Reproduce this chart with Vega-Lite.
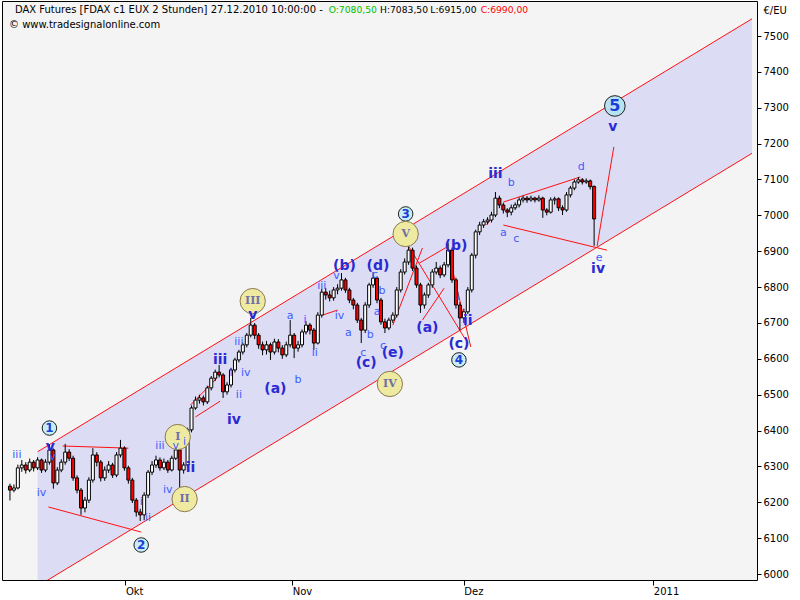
{
  "$schema": "https://vega.github.io/schema/vega-lite/v6.json",
  "autosize": "none",
  "width": 755,
  "height": 579,
  "padding": {"left": 2, "top": 1, "right": 43, "bottom": 20},
  "background": "#ffffff",
  "config": {
    "view": {"fill": "#f4f4f4", "stroke": "#000000", "strokeWidth": 1},
    "font": "DejaVu Sans",
    "axis": {"labelFont": "DejaVu Sans", "labelFontSize": 10, "labelColor": "#000000", "tickColor": "#000000", "grid": false, "domain": false, "labelOverlap": false}
  },
  "datasets": {
    "candles": [
      {"i":0,"o":6245,"h":6252,"l":6205,"c":6234},
      {"i":1,"o":6234,"h":6250,"l":6228,"c":6240},
      {"i":2,"o":6240,"h":6305,"l":6236,"c":6296},
      {"i":3,"o":6296,"h":6318,"l":6285,"c":6304},
      {"i":4,"o":6304,"h":6312,"l":6280,"c":6290},
      {"i":5,"o":6290,"h":6322,"l":6284,"c":6312},
      {"i":6,"o":6312,"h":6318,"l":6286,"c":6296},
      {"i":7,"o":6296,"h":6326,"l":6290,"c":6318},
      {"i":8,"o":6318,"h":6322,"l":6282,"c":6290},
      {"i":9,"o":6290,"h":6320,"l":6284,"c":6312},
      {"i":10,"o":6312,"h":6360,"l":6305,"c":6346},
      {"i":11,"o":6346,"h":6350,"l":6238,"c":6254},
      {"i":12,"o":6254,"h":6298,"l":6248,"c":6290},
      {"i":13,"o":6290,"h":6320,"l":6284,"c":6312},
      {"i":14,"o":6312,"h":6363,"l":6305,"c":6340},
      {"i":15,"o":6340,"h":6348,"l":6315,"c":6323},
      {"i":16,"o":6323,"h":6330,"l":6260,"c":6268},
      {"i":17,"o":6268,"h":6275,"l":6225,"c":6234},
      {"i":18,"o":6234,"h":6240,"l":6165,"c":6184},
      {"i":19,"o":6184,"h":6215,"l":6172,"c":6206},
      {"i":20,"o":6206,"h":6270,"l":6198,"c":6262},
      {"i":21,"o":6262,"h":6351,"l":6255,"c":6332},
      {"i":22,"o":6332,"h":6340,"l":6300,"c":6312},
      {"i":23,"o":6312,"h":6318,"l":6258,"c":6268},
      {"i":24,"o":6268,"h":6300,"l":6260,"c":6290},
      {"i":25,"o":6290,"h":6315,"l":6282,"c":6304},
      {"i":26,"o":6304,"h":6310,"l":6268,"c":6276},
      {"i":27,"o":6276,"h":6340,"l":6270,"c":6332},
      {"i":28,"o":6332,"h":6374,"l":6325,"c":6351},
      {"i":29,"o":6351,"h":6356,"l":6288,"c":6296},
      {"i":30,"o":6296,"h":6302,"l":6252,"c":6262},
      {"i":31,"o":6262,"h":6268,"l":6198,"c":6206},
      {"i":32,"o":6206,"h":6212,"l":6160,"c":6173},
      {"i":33,"o":6173,"h":6182,"l":6148,"c":6165},
      {"i":34,"o":6165,"h":6228,"l":6150,"c":6220},
      {"i":35,"o":6220,"h":6290,"l":6212,"c":6284},
      {"i":36,"o":6284,"h":6315,"l":6276,"c":6304},
      {"i":37,"o":6304,"h":6330,"l":6296,"c":6318},
      {"i":38,"o":6318,"h":6325,"l":6288,"c":6296},
      {"i":39,"o":6296,"h":6322,"l":6290,"c":6312},
      {"i":40,"o":6312,"h":6318,"l":6282,"c":6290},
      {"i":41,"o":6290,"h":6330,"l":6286,"c":6323},
      {"i":42,"o":6323,"h":6352,"l":6318,"c":6346},
      {"i":43,"o":6346,"h":6350,"l":6240,"c":6290},
      {"i":44,"o":6290,"h":6312,"l":6280,"c":6304},
      {"i":45,"o":6304,"h":6408,"l":6298,"c":6402},
      {"i":46,"o":6402,"h":6470,"l":6395,"c":6463},
      {"i":47,"o":6463,"h":6495,"l":6458,"c":6485},
      {"i":48,"o":6485,"h":6500,"l":6475,"c":6491},
      {"i":49,"o":6491,"h":6498,"l":6470,"c":6480},
      {"i":50,"o":6480,"h":6525,"l":6474,"c":6519},
      {"i":51,"o":6519,"h":6552,"l":6512,"c":6546},
      {"i":52,"o":6546,"h":6570,"l":6538,"c":6563},
      {"i":53,"o":6563,"h":6583,"l":6548,"c":6555},
      {"i":54,"o":6555,"h":6560,"l":6491,"c":6508},
      {"i":55,"o":6508,"h":6535,"l":6500,"c":6527},
      {"i":56,"o":6527,"h":6575,"l":6520,"c":6569},
      {"i":57,"o":6569,"h":6603,"l":6562,"c":6597},
      {"i":58,"o":6597,"h":6625,"l":6590,"c":6619},
      {"i":59,"o":6619,"h":6645,"l":6612,"c":6639},
      {"i":60,"o":6639,"h":6672,"l":6632,"c":6666},
      {"i":61,"o":6666,"h":6714,"l":6660,"c":6694},
      {"i":62,"o":6694,"h":6700,"l":6655,"c":6666},
      {"i":63,"o":6666,"h":6672,"l":6628,"c":6639},
      {"i":64,"o":6639,"h":6648,"l":6610,"c":6625},
      {"i":65,"o":6625,"h":6650,"l":6612,"c":6639},
      {"i":66,"o":6639,"h":6645,"l":6597,"c":6619},
      {"i":67,"o":6619,"h":6656,"l":6612,"c":6647},
      {"i":68,"o":6647,"h":6655,"l":6618,"c":6630},
      {"i":69,"o":6630,"h":6638,"l":6600,"c":6611},
      {"i":70,"o":6611,"h":6648,"l":6605,"c":6639},
      {"i":71,"o":6639,"h":6708,"l":6632,"c":6666},
      {"i":72,"o":6666,"h":6672,"l":6602,"c":6630},
      {"i":73,"o":6630,"h":6650,"l":6620,"c":6639},
      {"i":74,"o":6639,"h":6682,"l":6632,"c":6675},
      {"i":75,"o":6675,"h":6705,"l":6668,"c":6694},
      {"i":76,"o":6694,"h":6700,"l":6668,"c":6680},
      {"i":77,"o":6680,"h":6686,"l":6625,"c":6644},
      {"i":78,"o":6644,"h":6730,"l":6640,"c":6722},
      {"i":79,"o":6722,"h":6795,"l":6715,"c":6786},
      {"i":80,"o":6786,"h":6797,"l":6765,"c":6778},
      {"i":81,"o":6778,"h":6790,"l":6760,"c":6770},
      {"i":82,"o":6770,"h":6800,"l":6762,"c":6792},
      {"i":83,"o":6792,"h":6808,"l":6780,"c":6797},
      {"i":84,"o":6797,"h":6839,"l":6790,"c":6820},
      {"i":85,"o":6820,"h":6826,"l":6784,"c":6792},
      {"i":86,"o":6792,"h":6798,"l":6755,"c":6764},
      {"i":87,"o":6764,"h":6770,"l":6738,"c":6750},
      {"i":88,"o":6750,"h":6756,"l":6700,"c":6708},
      {"i":89,"o":6708,"h":6714,"l":6644,"c":6680},
      {"i":90,"o":6680,"h":6758,"l":6672,"c":6750},
      {"i":91,"o":6750,"h":6812,"l":6742,"c":6806},
      {"i":92,"o":6806,"h":6842,"l":6798,"c":6825},
      {"i":93,"o":6825,"h":6830,"l":6755,"c":6764},
      {"i":94,"o":6764,"h":6770,"l":6695,"c":6703},
      {"i":95,"o":6703,"h":6712,"l":6672,"c":6686},
      {"i":96,"o":6686,"h":6715,"l":6680,"c":6708},
      {"i":97,"o":6708,"h":6730,"l":6700,"c":6722},
      {"i":98,"o":6722,"h":6800,"l":6715,"c":6792},
      {"i":99,"o":6792,"h":6850,"l":6785,"c":6842},
      {"i":100,"o":6842,"h":6880,"l":6835,"c":6870},
      {"i":101,"o":6870,"h":6923,"l":6862,"c":6903},
      {"i":102,"o":6903,"h":6910,"l":6845,"c":6853},
      {"i":103,"o":6853,"h":6860,"l":6798,"c":6806},
      {"i":104,"o":6806,"h":6812,"l":6728,"c":6750},
      {"i":105,"o":6750,"h":6785,"l":6740,"c":6778},
      {"i":106,"o":6778,"h":6812,"l":6770,"c":6806},
      {"i":107,"o":6806,"h":6850,"l":6798,"c":6842},
      {"i":108,"o":6842,"h":6870,"l":6835,"c":6853},
      {"i":109,"o":6853,"h":6860,"l":6825,"c":6834},
      {"i":110,"o":6834,"h":6870,"l":6828,"c":6862},
      {"i":111,"o":6862,"h":6923,"l":6855,"c":6903},
      {"i":112,"o":6903,"h":6910,"l":6812,"c":6820},
      {"i":113,"o":6820,"h":6826,"l":6740,"c":6750},
      {"i":114,"o":6750,"h":6758,"l":6680,"c":6714},
      {"i":115,"o":6714,"h":6740,"l":6700,"c":6731},
      {"i":116,"o":6731,"h":6800,"l":6725,"c":6792},
      {"i":117,"o":6792,"h":6895,"l":6785,"c":6889},
      {"i":118,"o":6889,"h":6960,"l":6880,"c":6954},
      {"i":119,"o":6954,"h":6982,"l":6945,"c":6973},
      {"i":120,"o":6973,"h":6990,"l":6965,"c":6982},
      {"i":121,"o":6982,"h":6995,"l":6975,"c":6987},
      {"i":122,"o":6987,"h":7010,"l":6980,"c":7001},
      {"i":123,"o":7001,"h":7065,"l":6995,"c":7048},
      {"i":124,"o":7048,"h":7055,"l":7020,"c":7029},
      {"i":125,"o":7029,"h":7035,"l":7005,"c":7015},
      {"i":126,"o":7015,"h":7020,"l":6995,"c":7009},
      {"i":127,"o":7009,"h":7030,"l":7000,"c":7021},
      {"i":128,"o":7021,"h":7036,"l":7015,"c":7029},
      {"i":129,"o":7029,"h":7050,"l":7022,"c":7043},
      {"i":130,"o":7043,"h":7055,"l":7036,"c":7048},
      {"i":131,"o":7048,"h":7054,"l":7035,"c":7043},
      {"i":132,"o":7043,"h":7055,"l":7038,"c":7048},
      {"i":133,"o":7048,"h":7052,"l":7036,"c":7043},
      {"i":134,"o":7043,"h":7056,"l":7038,"c":7048},
      {"i":135,"o":7048,"h":7052,"l":6993,"c":7015},
      {"i":136,"o":7015,"h":7020,"l":7000,"c":7009},
      {"i":137,"o":7009,"h":7050,"l":7005,"c":7043},
      {"i":138,"o":7043,"h":7052,"l":7030,"c":7046},
      {"i":139,"o":7046,"h":7050,"l":7012,"c":7021},
      {"i":140,"o":7021,"h":7028,"l":7001,"c":7015},
      {"i":141,"o":7015,"h":7065,"l":7010,"c":7057},
      {"i":142,"o":7057,"h":7082,"l":7050,"c":7076},
      {"i":143,"o":7076,"h":7100,"l":7070,"c":7093},
      {"i":144,"o":7093,"h":7107,"l":7088,"c":7099},
      {"i":145,"o":7099,"h":7104,"l":7086,"c":7093},
      {"i":146,"o":7093,"h":7103,"l":7088,"c":7096},
      {"i":147,"o":7096,"h":7100,"l":7072,"c":7080},
      {"i":148,"o":7080.5,"h":7083.5,"l":6915,"c":6990}
    ],
    "channel": [
      {"i":7,"p":6341,"p2":5966},
      {"i":188,"p":7548,"p2":7173}
    ],
    "lines": [
      {"i":7,"p":6341,"i2":188,"p2":7548},
      {"i":7,"p":5966,"i2":188,"p2":7173},
      {"i":13.33,"p":6357,"i2":30,"p2":6351},
      {"i":9.75,"p":6187,"i2":33.25,"p2":6117},
      {"i":45.75,"p":6471,"i2":52.5,"p2":6547},
      {"i":47,"p":6438,"i2":53.25,"p2":6482},
      {"i":79.25,"p":6722,"i2":83,"p2":6736},
      {"i":97,"p":6694,"i2":104.5,"p2":6909},
      {"i":100.5,"p":6923,"i2":115.5,"p2":6652},
      {"i":103.75,"p":6867,"i2":110.75,"p2":6912},
      {"i":104.5,"p":6708,"i2":110,"p2":6797},
      {"i":110.75,"p":6912,"i2":116.75,"p2":6633},
      {"i":120.75,"p":6973,"i2":123.25,"p2":7012},
      {"i":125,"p":7037,"i2":144.5,"p2":7107},
      {"i":125,"p":6973,"i2":151.25,"p2":6903},
      {"i":148.75,"p":6914,"i2":153,"p2":7191}
    ],
    "circles": [
      {"i":10,"p":6407,"t":"1","k":"wave"},
      {"i":33.25,"p":6081,"t":"2","k":"wave"},
      {"i":100.25,"p":7004,"t":"3","k":"wave"},
      {"i":113.75,"p":6597,"t":"4","k":"wave"},
      {"i":153.25,"p":7305,"t":"5","k":"big"},
      {"i":42.5,"p":6382,"t":"I","k":"roman"},
      {"i":44.25,"p":6209,"t":"II","k":"roman"},
      {"i":61.5,"p":6761,"t":"III","k":"roman"},
      {"i":96.25,"p":6530,"t":"IV","k":"roman"},
      {"i":100.25,"p":6948,"t":"V","k":"roman"}
    ],
    "labels": [
      {"i":10.25,"p":6354,"t":"v","k":"big"},
      {"i":45.75,"p":6296,"t":"ii","k":"big"},
      {"i":53.25,"p":6597,"t":"iii","k":"big"},
      {"i":56.75,"p":6429,"t":"iv","k":"big"},
      {"i":61.5,"p":6722,"t":"v","k":"big"},
      {"i":67.25,"p":6516,"t":"(a)","k":"big"},
      {"i":84.75,"p":6859,"t":"(b)","k":"big"},
      {"i":90.25,"p":6588,"t":"(c)","k":"big"},
      {"i":93.25,"p":6859,"t":"(d)","k":"big"},
      {"i":97,"p":6616,"t":"(e)","k":"big"},
      {"i":105.75,"p":6686,"t":"(a)","k":"big"},
      {"i":113,"p":6915,"t":"(b)","k":"big"},
      {"i":113.75,"p":6641,"t":"(c)","k":"big"},
      {"i":116,"p":6705,"t":"ii","k":"big"},
      {"i":123,"p":7115,"t":"iii","k":"big"},
      {"i":149,"p":6850,"t":"iv","k":"big"},
      {"i":152.75,"p":7246,"t":"v","k":"big"},
      {"i":1.75,"p":6332,"t":"iii","k":"small"},
      {"i":8,"p":6226,"t":"iv","k":"small"},
      {"i":10.75,"p":6326,"t":"v","k":"small"},
      {"i":33.25,"p":6201,"t":"i","k":"small"},
      {"i":35,"p":6156,"t":"ii","k":"small"},
      {"i":38,"p":6357,"t":"iii","k":"small"},
      {"i":40,"p":6234,"t":"iv","k":"small"},
      {"i":42,"p":6357,"t":"v","k":"small"},
      {"i":44.25,"p":6368,"t":"i","k":"small"},
      {"i":56,"p":6560,"t":"i","k":"small"},
      {"i":59.75,"p":6560,"t":"iv","k":"small"},
      {"i":58,"p":6499,"t":"ii","k":"small"},
      {"i":58,"p":6647,"t":"iii","k":"small"},
      {"i":71,"p":6719,"t":"a","k":"small"},
      {"i":73,"p":6541,"t":"b","k":"small"},
      {"i":74.75,"p":6708,"t":"i","k":"small"},
      {"i":77.25,"p":6616,"t":"ii","k":"small"},
      {"i":79,"p":6803,"t":"iii","k":"small"},
      {"i":83.5,"p":6719,"t":"iv","k":"small"},
      {"i":82.75,"p":6831,"t":"v","k":"small"},
      {"i":85.75,"p":6672,"t":"a","k":"small"},
      {"i":89.5,"p":6616,"t":"c","k":"small"},
      {"i":91.25,"p":6666,"t":"b","k":"small"},
      {"i":92.5,"p":6834,"t":"c","k":"small"},
      {"i":94.25,"p":6789,"t":"b","k":"small"},
      {"i":93,"p":6731,"t":"a","k":"small"},
      {"i":94.5,"p":6636,"t":"c","k":"small"},
      {"i":113.5,"p":6772,"t":"i","k":"small"},
      {"i":127,"p":7090,"t":"b","k":"small"},
      {"i":125,"p":6951,"t":"a","k":"small"},
      {"i":128.25,"p":6934,"t":"c","k":"small"},
      {"i":144.75,"p":7135,"t":"d","k":"small"},
      {"i":149.25,"p":6881,"t":"e","k":"small"}
    ],
    "header": [
      {"i":1.25,"p":7572,"t":"DAX Futures [FDAX c1 EUX  2 Stunden] 27.12.2010 10:00:00 -","k":"plain"},
      {"i":-0.25,"p":7531,"t":"© www.tradesignalonline.com","k":"plain"}
    ],
    "quotes": [
      {"i":80.75,"p":7572,"t":"O:7080,50","k":"open"},
      {"i":93.75,"p":7572,"t":"H:7083,50","k":"plain"},
      {"i":106.5,"p":7572,"t":"L:6915,00","k":"plain"},
      {"i":119.25,"p":7572,"t":"C:6990,00","k":"close"}
    ]
  },
  "encoding": {
    "x": {"field": "i", "type": "quantitative", "scale": {"domain": [-0.75, 188], "nice": false, "zero": false},
      "axis": {"orient": "bottom", "values": [29.25, 71.5, 115, 163], "labelExpr": "datum.value < 40 ? 'Okt' : datum.value < 90 ? 'Nov' : datum.value < 140 ? 'Dez' : '2011'", "labelAlign": "left", "labelPadding": 1, "labelDx": -2, "labelOverlap": false, "tickSize": 5, "title": null}},
    "y": {"field": "p", "type": "quantitative", "scale": {"domain": [5983.4, 7597.6], "nice": false, "zero": false},
      "axis": {"orient": "right", "values": [6000,6100,6200,6300,6400,6500,6600,6700,6800,6900,7000,7100,7200,7300,7400,7500], "tickCount": 16, "format": "d", "labelOverlap": false, "tickSize": 4, "labelPadding": 2, "title": "€/EU", "titleAngle": 0, "titleAlign": "left", "titleBaseline": "middle", "titleX": 6, "titleY": 9, "titleFont": "DejaVu Sans", "titleFontSize": 10, "titleFontWeight": "normal"}}
  },
  "layer": [
    {
      "data": {"name": "channel"},
      "mark": {"type": "area", "clip": true, "fill": "#dcdcf5", "opacity": 1},
      "encoding": {"y2": {"field": "p2"}}
    },
    {
      "data": {"name": "lines"},
      "mark": {"type": "rule", "clip": true, "color": "#ff1010", "strokeWidth": 1},
      "encoding": {"x2": {"field": "i2"}, "y2": {"field": "p2"}}
    },
    {
      "data": {"name": "candles"},
      "mark": {"type": "rule", "color": "#000000", "strokeWidth": 1},
      "encoding": {
        "y": {"field": "l", "type": "quantitative", "scale": {"domain": [5983.4, 7597.6], "nice": false, "zero": false},
          "axis": {"orient": "right", "values": [6000,6100,6200,6300,6400,6500,6600,6700,6800,6900,7000,7100,7200,7300,7400,7500], "tickCount": 16, "format": "d", "labelOverlap": false, "tickSize": 4, "labelPadding": 2, "title": "€/EU", "titleAngle": 0, "titleAlign": "left", "titleBaseline": "middle", "titleX": 6, "titleY": 9, "titleFont": "DejaVu Sans", "titleFontSize": 10, "titleFontWeight": "normal"}},
        "y2": {"field": "h"}
      }
    },
    {
      "data": {"name": "candles"},
      "mark": {"type": "bar", "width": 3, "stroke": "#000000", "strokeWidth": 1},
      "encoding": {
        "y": {"field": "o", "type": "quantitative", "scale": {"domain": [5983.4, 7597.6], "nice": false, "zero": false},
          "axis": {"orient": "right", "values": [6000,6100,6200,6300,6400,6500,6600,6700,6800,6900,7000,7100,7200,7300,7400,7500], "tickCount": 16, "format": "d", "labelOverlap": false, "tickSize": 4, "labelPadding": 2, "title": "€/EU", "titleAngle": 0, "titleAlign": "left", "titleBaseline": "middle", "titleX": 6, "titleY": 9, "titleFont": "DejaVu Sans", "titleFontSize": 10, "titleFontWeight": "normal"}},
        "y2": {"field": "c"},
        "fill": {"condition": {"test": "datum.o > datum.c", "value": "#ff0000"}, "value": "#ffffff"}
      }
    },
    {
      "data": {"name": "circles"},
      "mark": {"type": "point", "shape": "circle", "filled": true, "opacity": 1, "strokeWidth": 1},
      "encoding": {
        "fill": {"field": "k", "type": "nominal", "scale": {"domain": ["wave", "big", "roman"], "range": ["#c6eef4", "#b6e2f2", "#efeaa2"]}, "legend": null},
        "stroke": {"field": "k", "type": "nominal", "scale": {"domain": ["wave", "big", "roman"], "range": ["#202020", "#202020", "#8a7a50"]}, "legend": null},
        "size": {"field": "k", "type": "nominal", "scale": {"domain": ["wave", "big", "roman"], "range": [210, 640, 250]}, "legend": null}
      }
    },
    {
      "data": {"name": "circles"},
      "transform": [{"filter": "datum.k == 'wave'"}],
      "mark": {"type": "text", "font": "DejaVu Sans", "fontWeight": "bold", "fontSize": 12, "color": "#1c3cd8", "align": "center", "baseline": "middle"},
      "encoding": {"text": {"field": "t"}}
    },
    {
      "data": {"name": "circles"},
      "transform": [{"filter": "datum.k == 'big'"}],
      "mark": {"type": "text", "font": "DejaVu Sans", "fontWeight": "bold", "fontSize": 16, "color": "#1c3cd8", "align": "center", "baseline": "middle"},
      "encoding": {"text": {"field": "t"}}
    },
    {
      "data": {"name": "circles"},
      "transform": [{"filter": "datum.k == 'roman'"}],
      "mark": {"type": "text", "font": "DejaVu Serif", "fontWeight": "bold", "fontSize": 11, "color": "#7070a8", "align": "center", "baseline": "middle"},
      "encoding": {"text": {"field": "t"}}
    },
    {
      "data": {"name": "labels"},
      "transform": [{"filter": "datum.k == 'big'"}],
      "mark": {"type": "text", "font": "DejaVu Sans", "fontWeight": "bold", "fontSize": 14, "color": "#2a2ad2", "align": "center", "baseline": "middle"},
      "encoding": {"text": {"field": "t"}}
    },
    {
      "data": {"name": "labels"},
      "transform": [{"filter": "datum.k == 'small'"}],
      "mark": {"type": "text", "font": "DejaVu Sans", "fontSize": 11, "color": "#3c5cff", "align": "center", "baseline": "middle"},
      "encoding": {"text": {"field": "t"}}
    },
    {
      "data": {"name": "header"},
      "mark": {"type": "text", "font": "DejaVu Sans", "fontSize": 10, "align": "left", "baseline": "middle", "color": "#000000"},
      "encoding": {"text": {"field": "t"}}
    },
    {
      "data": {"name": "quotes"},
      "mark": {"type": "text", "font": "DejaVu Sans", "fontSize": 9.2, "align": "left", "baseline": "middle"},
      "encoding": {
        "text": {"field": "t"},
        "color": {"field": "k", "type": "nominal", "scale": {"domain": ["plain", "open", "close"], "range": ["#000000", "#00c000", "#ff0000"]}, "legend": null}
      }
    }
  ]
}
